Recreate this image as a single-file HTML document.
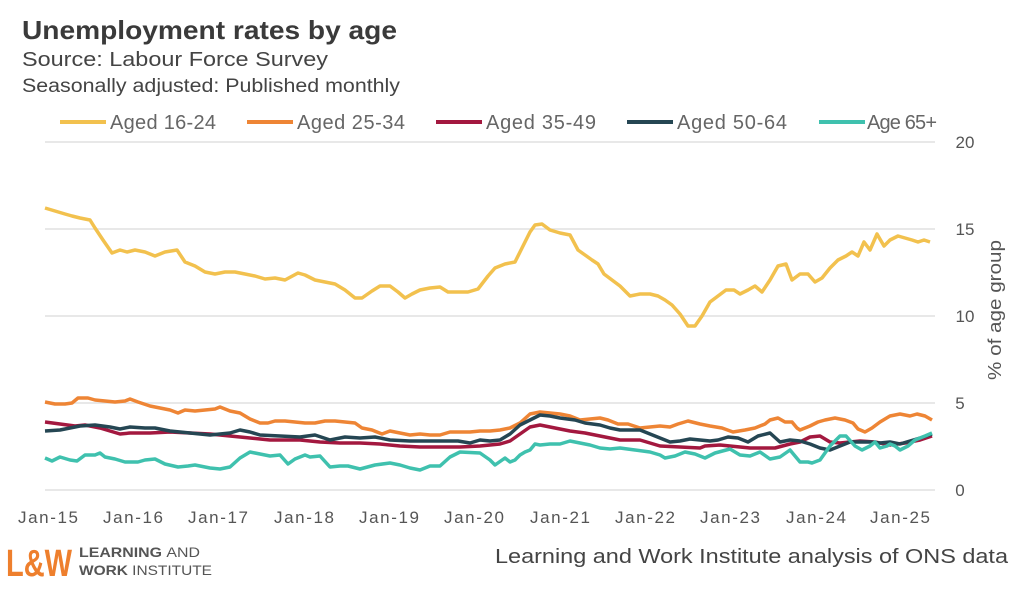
<!DOCTYPE html>
<html><head><meta charset="utf-8"><style>
body{margin:0;background:#fff;width:1024px;height:585px;overflow:hidden;font-family:"Liberation Sans",sans-serif}
</style></head><body>
<svg width="1024" height="585" viewBox="0 0 1024 585" xmlns="http://www.w3.org/2000/svg" font-family="Liberation Sans, sans-serif">
<text x="22" y="39" font-size="26" font-weight="bold" fill="#3a3a3a" textLength="375" lengthAdjust="spacingAndGlyphs">Unemployment rates by age</text>
<text x="22" y="66" font-size="20" fill="#444" textLength="306" lengthAdjust="spacingAndGlyphs">Source: Labour Force Survey</text>
<text x="22" y="92" font-size="19" fill="#444" textLength="378" lengthAdjust="spacingAndGlyphs">Seasonally adjusted: Published monthly</text>
<g font-size="20" fill="#666" lengthAdjust="spacingAndGlyphs">
<line x1="60" y1="122" x2="106" y2="122" stroke="#F2C14E" stroke-width="4"/><text x="110" y="129" textLength="106">Aged 16-24</text>
<line x1="247" y1="122" x2="293" y2="122" stroke="#EE8535" stroke-width="4"/><text x="297" y="129" textLength="108">Aged 25-34</text>
<line x1="436" y1="122" x2="482" y2="122" stroke="#A3183F" stroke-width="4"/><text x="486" y="129" textLength="110">Aged 35-49</text>
<line x1="627" y1="122" x2="673" y2="122" stroke="#254653" stroke-width="4"/><text x="677" y="129" textLength="110">Aged 50-64</text>
<line x1="819" y1="122" x2="865" y2="122" stroke="#3FC1AE" stroke-width="4"/><text x="867" y="129" textLength="70">Age 65+</text>
</g>
<g stroke="#e0e0e0" stroke-width="1.5">
<line x1="45" y1="142" x2="935" y2="142"/><line x1="45" y1="229" x2="935" y2="229"/><line x1="45" y1="316" x2="935" y2="316"/><line x1="45" y1="403" x2="935" y2="403"/><line x1="45" y1="490" x2="935" y2="490"/>
</g>
<g font-size="17" fill="#555" text-anchor="middle">
<text x="965" y="148">20</text><text x="965" y="235">15</text><text x="965" y="322">10</text><text x="960" y="409">5</text><text x="960" y="496">0</text>
</g>
<g font-size="17" fill="#555" text-anchor="middle" lengthAdjust="spacingAndGlyphs">
<text x="48" y="523" textLength="60">Jan-15</text><text x="133" y="523" textLength="60">Jan-16</text><text x="218" y="523" textLength="60">Jan-17</text><text x="304" y="523" textLength="60">Jan-18</text><text x="389" y="523" textLength="60">Jan-19</text><text x="474" y="523" textLength="60">Jan-20</text><text x="560" y="523" textLength="60">Jan-21</text><text x="645" y="523" textLength="60">Jan-22</text><text x="730" y="523" textLength="60">Jan-23</text><text x="816" y="523" textLength="60">Jan-24</text><text x="900" y="523" textLength="60">Jan-25</text>
</g>
<text transform="translate(1001,310) rotate(-90)" font-size="18" fill="#555" text-anchor="middle" textLength="140" lengthAdjust="spacingAndGlyphs">% of age group</text>
<g fill="none" stroke-width="3.5" stroke-linejoin="round">
<polyline stroke="#F2C14E" points="45,208 55,211 65,214 72,216 80,218 90,220 95,228 103,240 112,253 120,250 127,252 135,250 145,252 155,256 165,252 177,250 185,262 195,266 205,272 215,274 225,272 235,272 245,274 255,276 265,279 275,278 285,280 298,273 305,275 315,280 325,282 335,284 345,290 355,298 362,298 372,291 380,286 390,286 398,292 405,298 412,294 420,290 430,288 440,287 448,292 458,292 468,292 478,289 488,276 495,268 505,264 515,262 522,248 530,232 535,225 542,224 550,230 560,233 570,235 578,250 585,255 592,260 598,264 604,274 612,280 620,286 630,296 640,294 650,294 658,296 665,300 672,305 680,314 688,326 695,326 702,316 710,302 718,296 726,290 734,290 740,294 748,290 755,286 762,292 770,280 778,266 786,264 792,280 800,274 808,274 815,282 822,278 830,268 838,260 846,256 852,252 858,256 864,242 870,250 877,234 884,246 890,240 898,236 905,238 912,240 918,242 924,240 930,242"/>
<polyline stroke="#EE8535" points="45,402 55,404 65,404 72,403 78,398 88,398 95,400 105,401 115,402 125,401 130,399 138,402 150,406 160,408 170,410 178,413 185,410 195,411 205,410 215,409 220,407 230,411 240,413 250,419 260,423 268,423 275,421 285,421 295,422 305,423 315,423 325,421 335,421 345,422 355,423 362,428 372,430 382,434 390,431 400,433 410,435 420,434 430,435 440,435 450,432 460,432 470,432 480,431 490,431 500,430 510,428 520,423 530,414 540,412 550,413 560,414 570,416 580,420 590,419 600,418 608,420 618,424 628,424 640,428 650,427 660,426 670,427 678,424 688,421 700,424 710,426 722,428 733,432 745,430 755,428 765,424 770,420 778,418 785,422 792,422 797,428 800,430 810,426 818,422 825,420 835,418 845,420 853,423 858,429 865,432 872,428 880,422 890,416 900,414 910,416 917,414 925,416 932,420"/>
<polyline stroke="#A3183F" points="45,422 60,424 75,426 85,425 100,428 110,431 120,434 130,433 150,433 170,432 190,433 210,434 230,436 250,438 270,440 285,440 300,440 320,442 340,443 360,443 380,444 400,446 420,447 440,447 460,447 480,446 490,445 500,444 510,441 520,434 530,427 540,425 550,427 560,429 570,431 585,433 600,436 620,440 640,440 660,446 680,447 700,448 705,446 720,445 740,447 750,448 765,448 775,448 790,444 800,442 810,437 820,436 830,442 840,443 860,441 875,442 890,445 905,443 920,440 932,436"/>
<polyline stroke="#254653" points="45,431 60,430 70,428 80,426 95,425 110,427 120,429 130,427 145,428 155,428 170,431 190,433 210,435 230,433 240,430 250,432 260,435 280,436 300,437 315,435 330,440 345,437 360,438 375,437 390,440 410,441 430,441 445,441 458,441 470,443 480,440 490,441 500,440 510,434 520,425 530,420 540,415 550,416 560,418 575,420 585,423 600,425 610,428 620,430 630,430 640,430 650,434 660,438 670,442 680,441 690,439 700,440 710,441 718,440 728,437 738,438 748,442 758,436 770,433 780,442 790,440 800,441 810,444 820,448 830,450 840,446 850,442 860,442 870,442 880,443 890,442 900,444 910,441 920,438 932,434"/>
<polyline stroke="#3FC1AE" points="45,458 52,461 60,457 70,460 77,461 85,455 95,455 100,453 105,457 115,459 125,462 138,462 145,460 155,459 165,464 178,467 188,466 195,465 210,468 220,469 230,467 240,458 250,452 255,453 270,456 280,455 288,464 295,459 305,455 310,457 320,456 330,467 340,466 348,466 360,469 375,465 390,463 400,465 410,468 420,470 430,466 440,466 450,457 460,452 480,453 490,460 495,465 505,458 510,462 515,460 520,455 525,452 530,450 535,444 540,445 550,444 560,444 570,441 580,443 590,445 600,448 610,449 620,448 635,450 650,452 660,455 665,458 675,456 685,452 695,454 705,458 715,453 730,449 740,455 750,456 760,452 770,459 780,457 790,450 800,462 808,462 812,463 820,460 830,446 840,436 846,436 855,446 862,450 870,446 875,442 880,448 887,446 890,444 895,446 900,450 908,446 915,440 925,436 932,433"/>
</g>
<text x="6" y="576" font-size="38" font-weight="bold" fill="#EE7F2D" textLength="66" lengthAdjust="spacingAndGlyphs">L&amp;W</text>
<text x="79" y="557" font-size="14" font-weight="bold" fill="#555" textLength="121" lengthAdjust="spacingAndGlyphs">LEARNING <tspan font-weight="normal">AND</tspan></text>
<text x="79" y="575" font-size="14" font-weight="bold" fill="#555" textLength="133" lengthAdjust="spacingAndGlyphs">WORK <tspan font-weight="normal">INSTITUTE</tspan></text>
<text x="1008" y="563" font-size="20" fill="#444" text-anchor="end" textLength="513" lengthAdjust="spacingAndGlyphs">Learning and Work Institute analysis of ONS data</text>
</svg>
</body></html>
